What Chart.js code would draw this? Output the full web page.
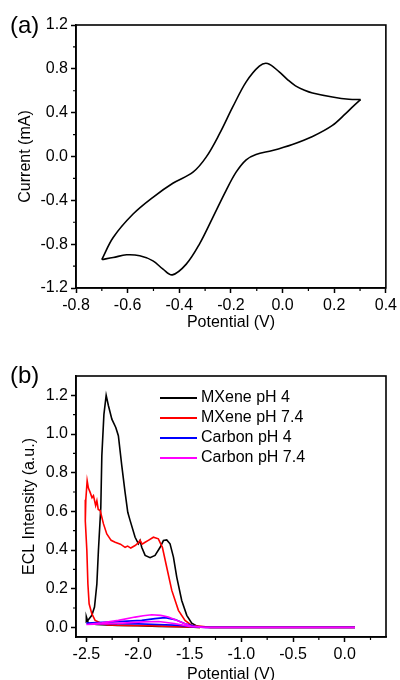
<!DOCTYPE html>
<html>
<head>
<meta charset="utf-8">
<script src="https://cdn.jsdelivr.net/npm/chart.js@4"></script>
<style>
  html, body { margin: 0; padding: 0; background: #fff; }
  #wrap { position: relative; width: 400px; height: 680px; overflow: hidden; }
  canvas { position: absolute; left: 0; }
  .tag { position: absolute; font-family: Arial, "Liberation Sans", sans-serif; font-size: 24px; line-height: 1; color: #000; }
</style>
</head>
<body>
<div id="wrap">
  <canvas id="cvChart" width="400" height="340" style="top:0"></canvas>
  <canvas id="eclChart" width="400" height="340" style="top:340px"></canvas>
  <div class="tag" style="left:10px;top:13px">(a)</div>
  <div class="tag" style="left:10px;top:363px">(b)</div>
</div>
<script>
// ---- (a) cyclic voltammogram ----
const cvForwardE = [-0.700, -0.656, -0.579, -0.502, -0.425, -0.347, -0.296, -0.244, -0.193, -0.141, -0.090, -0.058, -0.013, 0.020, 0.050, 0.085, 0.116, 0.193, 0.257, 0.302];
const cvForwardI = [-0.940, -0.739, -0.525, -0.372, -0.244, -0.143, -0.006, 0.208, 0.452, 0.681, 0.825, 0.849, 0.772, 0.700, 0.645, 0.605, 0.580, 0.543, 0.522, 0.519];
const cvReverseE = [0.302, 0.270, 0.244, 0.193, 0.116, 0.038, -0.039, -0.103, -0.141, -0.180, -0.219, -0.270, -0.322, -0.373, -0.427, -0.463, -0.502, -0.553, -0.604, -0.656, -0.700];
const cvReverseI = [0.519, 0.450, 0.391, 0.284, 0.183, 0.110, 0.055, 0.019, -0.030, -0.143, -0.311, -0.555, -0.799, -0.982, -1.080, -1.028, -0.952, -0.906, -0.897, -0.922, -0.940];
const cvXTicks = [-0.8, -0.6, -0.4, -0.2, 0.0, 0.2, 0.4];
const cvXMinor = [-0.7, -0.5, -0.3, -0.1, 0.1, 0.3];
const cvYTicks = [-1.2, -0.8, -0.4, 0.0, 0.4, 0.8, 1.2];
const cvYMinor = [-1.0, -0.6, -0.2, 0.2, 0.6, 1.0];

// ---- (b) ECL intensity vs potential ----
const eclLabels = ["MXene pH 4", "MXene pH 7.4", "Carbon pH 4", "Carbon pH 7.4"];
const eclColors = ["#000000", "#ff0000", "#0000ff", "#ff00ff"];
const mx4E = [0.1, -1.3, -1.416, -1.48, -1.528, -1.577, -1.625, -1.657, -1.69, -1.722, -1.754, -1.786, -1.835, -1.883, -1.931, -1.964, -1.98, -1.996, -2.028, -2.076, -2.099, -2.125, -2.157, -2.19, -2.215, -2.253, -2.286, -2.308, -2.33, -2.35, -2.36, -2.383, -2.398, -2.421, -2.447, -2.485, -2.5, -2.5, -2.48, -2.4, -2.2, -2.0, -1.8, -1.6, -1.4];
const mx4I = [0, 0, 0.002, 0.022, 0.062, 0.139, 0.26, 0.363, 0.432, 0.452, 0.449, 0.414, 0.372, 0.36, 0.372, 0.414, 0.449, 0.432, 0.466, 0.552, 0.595, 0.698, 0.836, 0.991, 1.034, 1.077, 1.146, 1.2, 1.1, 0.887, 0.62, 0.397, 0.225, 0.105, 0.062, 0.036, 0.03, 0.055, 0.02, 0.015, 0.01, 0.008, 0.005, 0.003, 0];
const mx74E = [0.1, -1.3, -1.48, -1.545, -1.609, -1.673, -1.722, -1.764, -1.803, -1.851, -1.9, -1.931, -1.96, -1.98, -2.0, -2.028, -2.07, -2.1, -2.125, -2.17, -2.221, -2.26, -2.302, -2.334, -2.366, -2.385, -2.398, -2.41, -2.431, -2.445, -2.463, -2.48, -2.492, -2.505, -2.51, -2.495, -2.485, -2.473, -2.447, -2.415, -2.35, -2.286, -2.1, -1.9, -1.7, -1.5, -1.4];
const mx74I = [0, 0, 0.01, 0.036, 0.088, 0.191, 0.311, 0.414, 0.458, 0.466, 0.45, 0.44, 0.43, 0.45, 0.435, 0.423, 0.41, 0.42, 0.414, 0.43, 0.44, 0.45, 0.483, 0.535, 0.604, 0.61, 0.655, 0.63, 0.681, 0.67, 0.698, 0.72, 0.758, 0.66, 0.55, 0.397, 0.225, 0.122, 0.071, 0.036, 0.02, 0.012, 0.01, 0.008, 0.005, 0.002, 0];
const c4E = [0.1, -1.35, -1.448, -1.545, -1.641, -1.738, -1.835, -1.964, -2.1, -2.286, -2.5, -2.3, -2.0, -1.8, -1.6, -1.45, -1.35];
const c4I = [0, 0, 0.005, 0.019, 0.04, 0.05, 0.045, 0.036, 0.032, 0.027, 0.022, 0.02, 0.018, 0.015, 0.01, 0.002, 0];
const c74E = [0.1, -1.35, -1.48, -1.609, -1.706, -1.78, -1.867, -1.95, -2.028, -2.19, -2.35, -2.5, -2.35, -2.15, -1.95, -1.8, -1.65, -1.5, -1.35];
const c74I = [0, 0, 0.005, 0.033, 0.053, 0.062, 0.065, 0.06, 0.053, 0.036, 0.024, 0.015, 0.018, 0.022, 0.028, 0.03, 0.02, 0.005, 0];
const eclXTicks = [-2.5, -2.0, -1.5, -1.0, -0.5, 0.0];
const eclXMinor = [-2.25, -1.75, -1.25, -0.75, -0.25, 0.25];
const eclYTicks = [0.0, 0.2, 0.4, 0.6, 0.8, 1.0, 1.2];
const eclYMinor = [0.1, 0.3, 0.5, 0.7, 0.9, 1.1];

const FONT = 'Arial, "Liberation Sans", sans-serif';
Chart.defaults.font.family = FONT;
Chart.defaults.color = "#000";

function pts(xs, ys) {
  return xs.map((x, i) => ({ x: x, y: ys[i] }));
}
function fmt(v) {
  return Math.abs(v) < 1e-9 ? "0.0" : v.toFixed(1);
}

// box around the plot plus the small minor ticks
const framePlugin = {
  id: "frame",
  afterDatasetsDraw(chart, args, opts) {
    const { ctx, chartArea: a, scales } = chart;
    ctx.save();
    ctx.strokeStyle = "#000";
    ctx.lineWidth = 1.6;
    ctx.strokeRect(a.left, a.top, a.right - a.left, a.bottom - a.top);
    ctx.lineWidth = 1.2;
    ctx.beginPath();
    opts.xMinor.forEach(v => {
      const x = scales.x.getPixelForValue(v);
      ctx.moveTo(x, a.bottom);
      ctx.lineTo(x, a.bottom + 3);
    });
    opts.yMinor.forEach(v => {
      const y = scales.y.getPixelForValue(v);
      ctx.moveTo(a.left, y);
      ctx.lineTo(a.left - 3, y);
    });
    ctx.stroke();
    ctx.restore();
  }
};

// legend drawn inside the plot, top right
const insideLegend = {
  id: "insideLegend",
  afterDraw(chart, args, opts) {
    if (!opts.show) return;
    const { ctx, chartArea: a } = chart;
    ctx.save();
    ctx.font = "16px " + FONT;
    ctx.textBaseline = "middle";
    chart.data.datasets.forEach((ds, i) => {
      const y = a.top + opts.top + i * opts.rowGap;
      const x0 = a.left + opts.left;
      ctx.strokeStyle = ds.borderColor;
      ctx.lineWidth = 2;
      ctx.beginPath();
      ctx.moveTo(x0, y);
      ctx.lineTo(x0 + opts.lineLen, y);
      ctx.stroke();
      ctx.fillStyle = "#000";
      ctx.fillText(ds.label, x0 + opts.lineLen + 4, y);
    });
    ctx.restore();
  }
};

function axis(min, max, tickVals, title, size, titlePad) {
  return {
    type: "linear",
    min: min,
    max: max,
    afterBuildTicks: s => { s.ticks = tickVals.map(v => ({ value: v })); },
    afterFit: s => { if (s.isHorizontal()) s.height = size; else s.width = size; },
    grid: { drawOnChartArea: false, tickLength: 5, tickWidth: 1.5, tickColor: "#000" },
    border: { color: "#000", width: 1.6 },
    ticks: { color: "#000", font: { size: 16 }, padding: 3, autoSkip: false, maxRotation: 0, callback: v => fmt(v) },
    title: { display: true, text: title, color: "#000", font: { size: 16 }, padding: titlePad }
  };
}

new Chart(document.getElementById("cvChart"), {
  type: "scatter",
  data: {
    datasets: [
      { label: "forward", data: pts(cvForwardE, cvForwardI), showLine: true, borderColor: "#000", borderWidth: 1.6, pointRadius: 0, tension: 0.35 },
      { label: "reverse", data: pts(cvReverseE, cvReverseI), showLine: true, borderColor: "#000", borderWidth: 1.6, pointRadius: 0, tension: 0.35 }
    ]
  },
  options: {
    responsive: false,
    animation: false,
    devicePixelRatio: 1,
    layout: { padding: { top: 25, right: 13, left: 0, bottom: 0 } },
    scales: {
      x: axis(-0.8, 0.4, cvXTicks, "Potential (V)", 52, { top: 0, bottom: 8 }),
      y: axis(-1.2, 1.2, cvYTicks, "Current (mA)", 76, { top: 16, bottom: 0 })
    },
    plugins: {
      legend: { display: false },
      tooltip: { enabled: false },
      frame: { xMinor: cvXMinor, yMinor: cvYMinor },
      insideLegend: { show: false }
    }
  },
  plugins: [framePlugin, insideLegend]
});

const eclSeries = [[mx4E, mx4I], [mx74E, mx74I], [c4E, c4I], [c74E, c74I]];

new Chart(document.getElementById("eclChart"), {
  type: "scatter",
  data: {
    datasets: eclSeries.map((s, i) => ({
      label: eclLabels[i],
      data: pts(s[0], s[1]),
      showLine: true,
      borderColor: eclColors[i],
      borderWidth: 1.6,
      pointRadius: 0,
      tension: 0,
      order: 3 - i
    }))
  },
  options: {
    responsive: false,
    animation: false,
    devicePixelRatio: 1,
    layout: { padding: { top: 36, right: 14, left: 0, bottom: 0 } },
    scales: {
      x: axis(-2.6, 0.4, eclXTicks, "Potential (V)", 43, { top: 0, bottom: -4 }),
      y: axis(-0.05, 1.3, eclYTicks, "ECL Intensity (a.u.)", 76, { top: 20, bottom: 0 })
    },
    plugins: {
      legend: { display: false },
      tooltip: { enabled: false },
      frame: { xMinor: eclXMinor, yMinor: eclYMinor },
      insideLegend: { show: true, left: 84, top: 22, rowGap: 20, lineLen: 37 }
    }
  },
  plugins: [framePlugin, insideLegend]
});
</script>
</body>
</html>
